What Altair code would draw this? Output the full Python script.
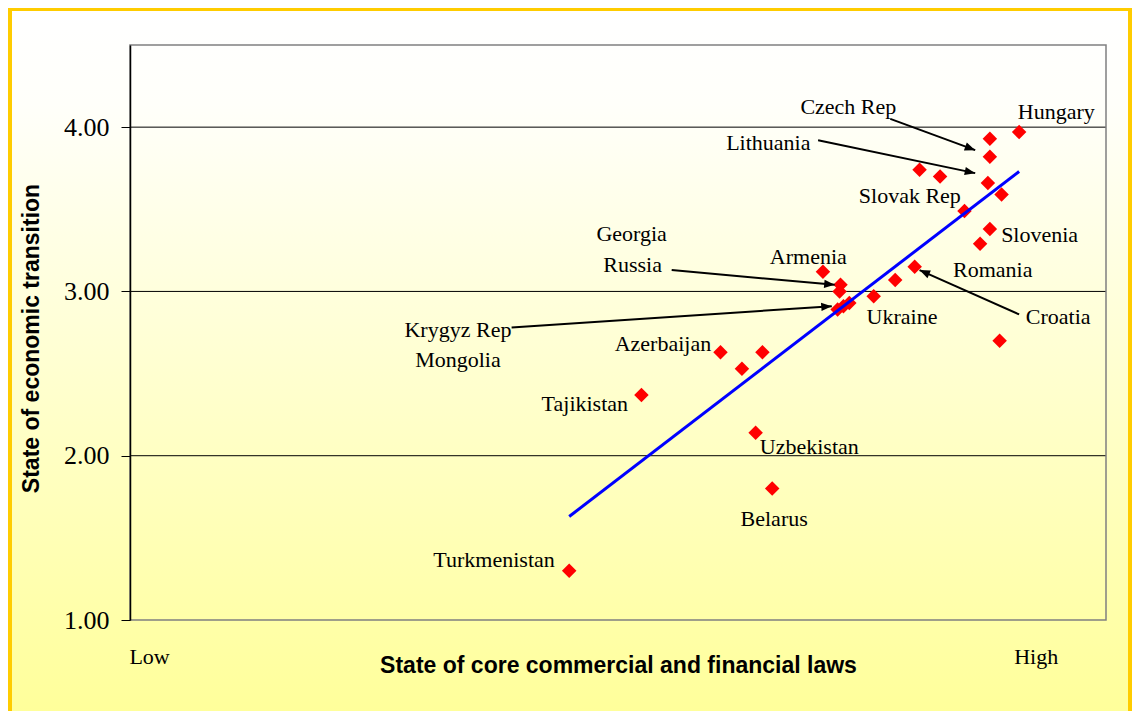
import math
import altair as alt
import pandas as pd

# ---------------- data ----------------
pt_x = [4.50, 5.24, 6.05, 6.27, 6.48, 6.41, 6.58, 7.10, 7.28, 7.27, 7.25, 7.31, 7.37,
        7.62, 7.84, 8.04, 8.09, 8.30, 8.55, 8.71, 8.81, 8.91, 8.79, 8.93, 8.81, 8.81, 9.11]
pt_y = [1.30, 2.37, 2.63, 2.53, 2.63, 2.14, 1.80, 3.12, 3.04, 3.00, 2.89, 2.91, 2.93,
        2.97, 3.07, 3.15, 3.74, 3.70, 3.49, 3.29, 3.38, 2.70, 3.66, 3.59, 3.82, 3.93, 3.97]

trend_x = [4.50, 9.11]
trend_y = [1.63, 3.73]

label_text = ["Czech Rep", "Hungary", "Lithuania", "Slovak Rep", "Slovenia", "Romania",
              "Georgia", "Russia", "Armenia", "Ukraine", "Croatia", "Krygyz Rep",
              "Mongolia", "Azerbaijan", "Tajikistan", "Uzbekistan", "Belarus", "Turkmenistan"]
label_x = [7.36, 9.49, 6.54, 7.99, 9.32, 8.84, 5.14, 5.15, 6.95, 7.91, 9.51, 3.36,
           3.36, 5.46, 4.66, 6.96, 6.60, 3.73]
label_y = [4.08, 4.05, 3.86, 3.54, 3.30, 3.09, 3.31, 3.12, 3.17, 2.80, 2.80, 2.72,
           2.54, 2.64, 2.27, 2.01, 1.57, 1.32]

arrow_x1 = [7.79, 7.05, 5.55, 3.91, 9.11]
arrow_y1 = [4.05, 3.92, 3.13, 2.78, 2.86]
arrow_x2 = [8.66, 8.66, 7.22, 7.19, 8.09]
arrow_y2 = [3.86, 3.72, 3.04, 2.91, 3.13]

grid_y = [2, 3, 4]
y_ticks = [1, 2, 3, 4]
x_tick_pos = [0.195, 9.28]
x_tick_text = ["Low", "High"]

# ---------------- layout ----------------
W, H = 976, 575
X_DOM = [0, 10]
Y_DOM = [1, 4.5]
PAD = {"left": 122, "top": 37, "right": 26, "bottom": 91}

SERIF = "Liberation Serif"
SANS = "Liberation Sans"

xs = alt.Scale(domain=X_DOM, nice=False, zero=False)
ys = alt.Scale(domain=Y_DOM, nice=False, zero=False)

points = pd.DataFrame({"x": pt_x, "y": pt_y})
trend = pd.DataFrame({"x": trend_x, "y": trend_y})
labels = pd.DataFrame({"t": label_text, "x": label_x, "y": label_y})

px_per_x = W / (X_DOM[1] - X_DOM[0])
px_per_y = H / (Y_DOM[1] - Y_DOM[0])
angles = []
for a, b, c, d in zip(arrow_x1, arrow_y1, arrow_x2, arrow_y2):
    dx = (c - a) * px_per_x
    dy = -(d - b) * px_per_y
    angles.append(math.degrees(math.atan2(dx, -dy)) % 360)
arrows = pd.DataFrame({"x1": arrow_x1, "y1": arrow_y1, "x2": arrow_x2, "y2": arrow_y2,
                       "ang": angles})
grid = pd.DataFrame({"y": grid_y})
one = pd.DataFrame({"a": [0]})

label_expr = "datum.value < 5 ? '%s' : '%s'" % (x_tick_text[0], x_tick_text[1])

gradient = {
    "gradient": "linear", "x1": 0, "y1": 0, "x2": 0, "y2": 1,
    "stops": [
        {"offset": 0.0, "color": "#FFFFFF"},
        {"offset": 0.13, "color": "#FFFFFA"},
        {"offset": 1.0, "color": "#FFFF95"},
    ],
}

bg = alt.Chart(one).mark_rect(fill=gradient, stroke="#FFCC00", strokeWidth=4).encode(
    x=alt.value(-120), x2=alt.value(1000), y=alt.value(-36), y2=alt.value(700)
)

outline = alt.Chart(one).mark_rect(fill="transparent", stroke="#808080", strokeWidth=1.5).encode(
    x=alt.value(0), x2=alt.value(W), y=alt.value(0), y2=alt.value(H)
)

gridlines = alt.Chart(grid).mark_rule(color="black", strokeWidth=1).encode(
    y=alt.Y("y:Q", scale=ys)
)

pts = alt.Chart(points).mark_point(shape="diamond", filled=True, color="#FF0000",
                                   size=210, opacity=1).encode(
    x=alt.X("x:Q", scale=xs,
            axis=alt.Axis(values=x_tick_pos, labelExpr=label_expr, ticks=False, tickSize=0,
                          domain=False, grid=False, labelFont=SERIF, labelFontSize=22,
                          labelColor="black", labelBaseline="alphabetic", labelPadding=43,
                          labelAlign="center", labelFlush=False,
                          title="State of core commercial and financial laws",
                          titleFont=SANS, titleFontSize=23, titleFontWeight="bold",
                          titleColor="black", titleY=52, titleBaseline="alphabetic",
                          zindex=1)),
    y=alt.Y("y:Q", scale=ys,
            axis=alt.Axis(values=y_ticks, format=".2f", grid=False, domainColor="black",
                          domainWidth=1.5, tickColor="black", tickSize=9, labelFont=SERIF,
                          labelFontSize=26, labelColor="black", labelPadding=12,
                          title="State of economic transition", titleFont=SANS,
                          titleFontSize=23, titleFontWeight="bold", titleColor="black",
                          titleX=-92, titleY=293, titleBaseline="alphabetic",
                          titleAlign="center", zindex=1)),
)

line = alt.Chart(trend).mark_line(color="#0000FF", strokeWidth=3).encode(
    x=alt.X("x:Q", scale=xs), y=alt.Y("y:Q", scale=ys)
)

arrow_lines = alt.Chart(arrows).mark_rule(color="black", strokeWidth=2).encode(
    x=alt.X("x1:Q", scale=xs), y=alt.Y("y1:Q", scale=ys), x2="x2:Q", y2="y2:Q"
)

arrow_heads = alt.Chart(arrows).mark_point(
    shape="M0,0L0.8,2L-0.8,2Z", filled=True, color="black", size=110, opacity=1
).encode(
    x=alt.X("x2:Q", scale=xs), y=alt.Y("y2:Q", scale=ys), angle=alt.Angle("ang:Q", scale=None)
)

texts = alt.Chart(labels).mark_text(font=SERIF, fontSize=22, color="black", align="center",
                                    baseline="alphabetic").encode(
    x=alt.X("x:Q", scale=xs), y=alt.Y("y:Q", scale=ys), text="t:N"
)

chart = alt.layer(bg, gridlines, outline, pts, line, arrow_lines, arrow_heads, texts).properties(
    width=W, height=H, padding=PAD, autosize=alt.AutoSizeParams(type="none"),
    background="white"
).configure_view(strokeWidth=0)

chart.save("out.html", embed_options={"renderer": "svg", "actions": False})
